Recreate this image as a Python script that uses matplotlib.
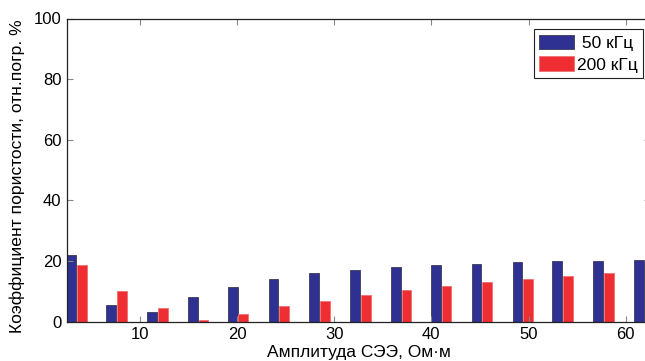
import matplotlib
matplotlib.use('Agg')
import matplotlib.pyplot as plt
import numpy as np

plt.rcParams['font.family'] = ['Liberation Sans', 'DejaVu Sans']

# amplitude positions and porosity error for both frequencies
amp = [3.5, 7.6, 11.8, 16.0, 20.1, 24.3, 28.5, 32.7, 36.9, 41.0, 45.2, 49.4, 53.5, 57.7, 61.9]
err_50 = [21.8, 5.3, 3.3, 8.2, 11.4, 14.1, 16.0, 17.1, 17.9, 18.8, 19.1, 19.8, 20.0, 20.0, 20.4]
err_200 = [18.8, 10.0, 4.3, 0.6, 2.6, 5.0, 6.9, 8.9, 10.5, 11.8, 13.0, 14.1, 15.1, 16.0, 17.0]
labels = [' 50 кГц', '200 кГц']

x = np.array(amp)
w = 1.0

fig = plt.figure(figsize=(6.45, 3.61), dpi=100)
ax = fig.add_axes([67/645, 1 - 321.5/361, 583/645, 303/361])

ax.bar(x - 0.55, err_50, width=w, color='#2e3192', edgecolor='#3a3a55', linewidth=0.6, label=labels[0])
ax.bar(x + 0.55, err_200, width=w, color='#ee2e33', edgecolor='#f07070', linewidth=0.6, label=labels[1])

ax.set_xlim(2.5, 62.5)
ax.set_ylim(0, 100)
ax.set_xticks([10, 20, 30, 40, 50, 60])
ax.set_yticks([0, 20, 40, 60, 80, 100])
ax.tick_params(direction='in', length=4, width=0.8, color='#888888', labelsize=12,
               top=True, right=True, pad=4)
for s in ax.spines.values():
    s.set_linewidth(0.9)
    s.set_color('#222222')

ax.set_xlabel('Амплитуда СЭЭ, Ом·м', fontsize=12.5, labelpad=2)
ax.set_ylabel('Коэффициент пористости, отн.погр. %', fontsize=12.6, labelpad=2)
ax.yaxis.set_label_coords(-0.072, 0.48)

leg = ax.legend(loc='upper right', bbox_to_anchor=(642.7/645, 1 - 29.3/361),
                bbox_transform=fig.transFigure, borderaxespad=0, fontsize=12.5,
                handlelength=2.0, handleheight=0.95, handletextpad=0.15,
                labelspacing=0.3, borderpad=0.3, fancybox=False, framealpha=1)
leg.get_frame().set_edgecolor('#222222')
leg.get_frame().set_linewidth(0.8)

fig.savefig('out.png', dpi=100)
